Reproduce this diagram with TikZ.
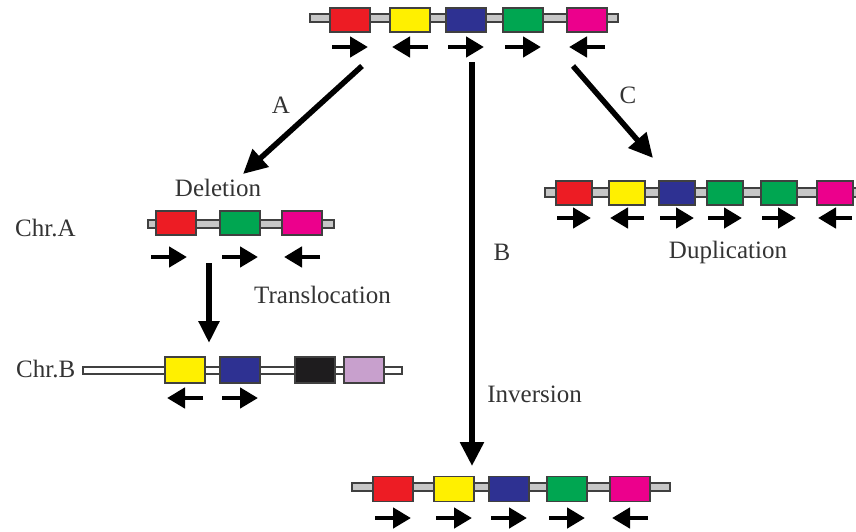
\documentclass[tikz,border=0pt]{standalone}
\usepackage{fontspec}
\setmainfont{Liberation Serif}
\usetikzlibrary{arrows.meta}

\definecolor{genered}    {RGB}{237, 28,  36}
\definecolor{geneyellow} {RGB}{255, 240, 0}
\definecolor{geneblue}   {RGB}{46,  49,  146}
\definecolor{genegreen}  {RGB}{0,   166, 81}
\definecolor{genemagenta}{RGB}{236, 0,   140}
\definecolor{genelilac}  {RGB}{200, 160, 205}
\definecolor{geneblack}  {RGB}{30,  28,  30}

\tikzset{
  gene/.style={
    draw=black!75, line width=1.2pt, fill=#1,
    minimum width=40pt, minimum height=24pt, inner sep=0pt
  },
  chrom/.style={
    draw=black!75, line width=1.2pt, fill=black!22
  },
  orient/.style={
    -{Triangle[length=18pt, width=20pt]}, line width=4.5pt
  },
  event/.style={
    -{Triangle[length=24pt, width=23pt]}, line width=5.5pt
  },
  lbl/.style={
    font=\fontsize{25}{28}\selectfont, inner sep=0pt, text=black!80
  },
}

\begin{document}
\begin{tikzpicture}[x=1pt, y=-1pt]
  \useasboundingbox (0,0) rectangle (856,531);

  % Original chromosome
  \draw[chrom] (310,14) rectangle (618,22);
  \foreach \x/\c/\d [count=\i] in {350/genered/1, 410/geneyellow/-1,
      466/geneblue/1, 523/genegreen/1, 587/genemagenta/-1} {
    \node[gene=\c] (top-\i) at (\x,20) {};
    \draw[orient] ({\x-18*\d},47) -- ({\x+18*\d},47);
  }

  % A: deletion on Chr.A
  \node[lbl, anchor=base] (del) at (218,196) {Deletion};
  \node[lbl, anchor=base west] (chra) at (15,236) {Chr.A};
  \draw[chrom] (148,220) rectangle (334,228);
  \foreach \x/\c/\d/\s [count=\i] in {176/genered/1/-7, 240/genegreen/1/0,
      302/genemagenta/-1/0} {
    \node[gene=\c] (dela-\i) at (\x,223) {};
    \draw[orient] ({\x+\s-18*\d},257) -- ({\x+\s+18*\d},257);
  }

  % translocated genes on Chr.B
  \node[lbl, anchor=base west] (chrb) at (16,377) {Chr.B};
  \draw[chrom, fill=white] (83,367) rectangle (402,374);
  \foreach \x/\c [count=\i] in {185/geneyellow, 240/geneblue,
      315/geneblack, 364/genelilac} {
    \node[gene=\c, minimum height=26pt] (trb-\i) at (\x,370) {};
  }
  \draw[orient] (trb-1.center) ++(18,28) -- ++(-36,0);
  \draw[orient] (trb-2.center) ++(-18,28) -- ++(36,0);
  \node[lbl, anchor=base west] (transl) at (254,303) {Translocation};

  % C: duplication
  \draw[chrom] (545,188) rectangle (857,197);
  \foreach \x/\c/\d [count=\i] in {574/genered/1, 627/geneyellow/-1,
      677/geneblue/1, 725/genegreen/1, 779/genegreen/1, 835/genemagenta/-1} {
    \node[gene=\c, minimum width=36pt] (dup-\i) at (\x,193) {};
    \draw[orient] ({\x-17*\d},218) -- ({\x+17*\d},218);
  }
  \node[lbl, anchor=base] (dupl) at (728,258) {Duplication};

  % B: inversion
  \draw[chrom] (352,483) rectangle (670,491);
  \foreach \x/\c/\d [count=\i] in {393/genered/1, 454/geneyellow/1,
      509/geneblue/1, 567/genegreen/1, 630/genemagenta/-1} {
    \node[gene=\c, minimum height=25pt] (inv-\i) at (\x,489) {};
    \draw[orient] ({\x-18*\d},518) -- ({\x+18*\d},518);
  }
  \node[lbl, anchor=base east] (invl) at (582,402) {Inversion};

  % Event arrows
  \coordinate (a-from) at (362,66);
  \coordinate (a-to)   at (243,174);
  \coordinate (b-from) at (472,62);
  \coordinate (b-to)   at (472,466);
  \coordinate (c-from) at (573,66);
  \coordinate (c-to)   at (653,158);
  \coordinate (t-from) at (209,263);
  \coordinate (t-to)   at (209,343);
  \draw[event] (a-from) -- (a-to);
  \draw[event] (b-from) -- (b-to);
  \draw[event] (c-from) -- (c-to);
  \draw[event, -{Triangle[length=22pt, width=20pt]}] (t-from) -- (t-to);

  \node[lbl, anchor=base] (la) at (281,113) {A};
  \node[lbl, anchor=base] (lb) at (502,260) {B};
  \node[lbl, anchor=base] (lc) at (628,103) {C};
\end{tikzpicture}
\end{document}
